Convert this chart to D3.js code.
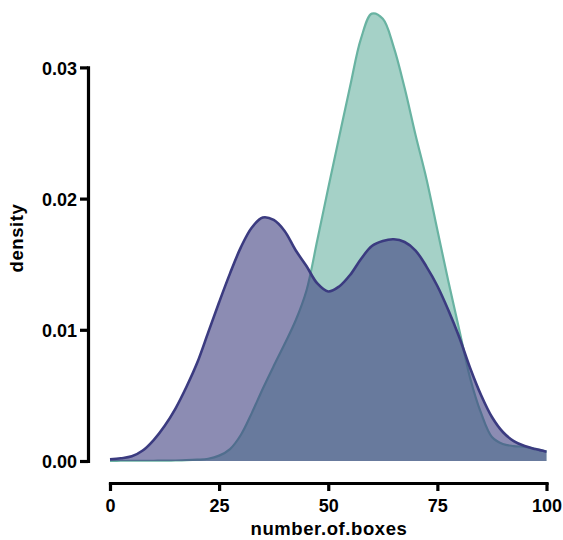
<!DOCTYPE html>
<html>
<head>
<meta charset="utf-8">
<script src="https://cdn.jsdelivr.net/npm/d3@7"></script>
<style>
  body { margin: 0; background: #fff; }
  text { font-family: "Liberation Sans", Arial, sans-serif; font-weight: bold; }
</style>
</head>
<body>
<div id="chart"></div>
<script>
// sample points along number.of.boxes
var xs = [0, 2.5, 5, 7.5, 10, 12.5, 15, 17.5, 20, 22.5, 25, 27.5, 30, 32.5, 35, 37.5, 40, 42.5, 45, 47.5,
          50, 52.5, 55, 57.5, 60, 62.5, 65, 67.5, 70, 72.5, 75, 77.5, 80, 82.5, 85, 87.5, 90, 92.5, 95, 97.5, 100];
// density of the first group (green)
var greenDensity = [0.00001, 0.00002, 0.00002, 0.00002, 0.00002, 0.00003, 0.00004, 0.00006, 0.0001, 0.00017,
                    0.00041, 0.00091, 0.0020, 0.00367, 0.00551, 0.00724, 0.00892, 0.01069, 0.01298, 0.01684,
                    0.02081, 0.0247, 0.02854, 0.0322, 0.0341, 0.0337, 0.03155, 0.02843, 0.02485, 0.0215,
                    0.0176, 0.01372, 0.01002, 0.00633, 0.00366, 0.00183, 0.0013, 0.00114, 0.00107, 0.00091, 0.00071];
// density of the second group (purple)
var purpleDensity = [0.00013, 0.00021, 0.00036, 0.0008, 0.0016, 0.00267, 0.0040, 0.00564, 0.0075, 0.0098,
                     0.0121, 0.0143, 0.0163, 0.0178, 0.01856, 0.01837, 0.01753, 0.01608, 0.01486, 0.01353,
                     0.01292, 0.0133, 0.01418, 0.0154, 0.01639, 0.01677, 0.0169, 0.01669, 0.01604, 0.01482,
                     0.01334, 0.01151, 0.00945, 0.00709, 0.00503, 0.00335, 0.00221, 0.00152, 0.00114, 0.00091, 0.00071];
var xTicks = [0, 25, 50, 75, 100];
var yTicks = [0, 0.01, 0.02, 0.03];

var width = 563, height = 540;

var svg = d3.select("#chart").append("svg")
    .attr("width", width)
    .attr("height", height);

// set the ranges
var x = d3.scaleLinear().domain([0, 100]).range([110, 546.5]);
var y = d3.scaleLinear().domain([0, 0.03]).range([461, 67.4]);

function series(vals) {
    return xs.map(function (d, i) { return [d, vals[i]]; });
}

var area = d3.area()
    .curve(d3.curveCatmullRom.alpha(0.5))
    .x(function (d) { return x(d[0]); })
    .y0(y(0))
    .y1(function (d) { return y(d[1]); });

var line = d3.line()
    .curve(d3.curveCatmullRom.alpha(0.5))
    .x(function (d) { return x(d[0]); })
    .y(function (d) { return y(d[1]); });

// green group first, purple on top
svg.append("path")
    .datum(series(greenDensity))
    .attr("fill", "#69b3a2")
    .attr("fill-opacity", 0.6)
    .attr("d", area);
svg.append("path")
    .datum(series(greenDensity))
    .attr("fill", "none")
    .attr("stroke", "#69b3a2")
    .attr("stroke-width", 2.2)
    .attr("d", line);

svg.append("path")
    .datum(series(purpleDensity))
    .attr("fill", "#404080")
    .attr("fill-opacity", 0.6)
    .attr("d", area);
svg.append("path")
    .datum(series(purpleDensity))
    .attr("fill", "none")
    .attr("stroke", "#3b3b80")
    .attr("stroke-width", 2.6)
    .attr("d", line);

// add the y Axis
var gy = svg.append("g")
    .attr("transform", "translate(88,0)")
    .call(d3.axisLeft(y).tickValues(yTicks).tickFormat(d3.format(".2f")).tickSize(8).tickSizeOuter(0).tickPadding(3));

// add the x Axis
var gx = svg.append("g")
    .attr("transform", "translate(0,483)")
    .call(d3.axisBottom(x).tickValues(xTicks).tickSize(8).tickSizeOuter(0).tickPadding(8));

[gx, gy].forEach(function (g) {
    g.select(".domain").attr("stroke", "#000").attr("stroke-width", 3.2).attr("stroke-linecap", "square");
    g.selectAll(".tick line").attr("stroke", "#000").attr("stroke-width", 3.2);
    g.selectAll(".tick text").attr("fill", "#000").style("font-size", "18px");
});
gy.selectAll(".tick text").attr("dy", "0.38em");

// axis titles
svg.append("text")
    .attr("x", 329)
    .attr("y", 535)
    .attr("text-anchor", "middle")
    .style("font-size", "18.5px")
    .style("letter-spacing", "0.6px")
    .text("number.of.boxes");

svg.append("text")
    .attr("transform", "translate(23,238) rotate(-90)")
    .attr("text-anchor", "middle")
    .style("font-size", "18.5px")
    .style("letter-spacing", "0.6px")
    .text("density");
</script>
</body>
</html>
